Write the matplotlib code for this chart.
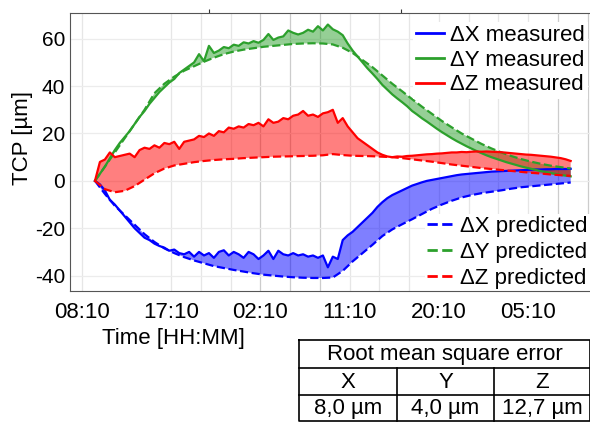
import matplotlib
matplotlib.use("Agg")
import matplotlib.pyplot as plt
import numpy as np
from matplotlib.lines import Line2D

plt.rcParams['font.family'] = ['Liberation Sans', 'DejaVu Sans']
plt.rcParams['axes.unicode_minus'] = False

# hours since 08:10
t_meas = 1.3 + 0.5 * np.arange(97)
t_pred = 1.3 + 1.0 * np.arange(49)

meas_x = [0, -1.5, -4, -8, -10, -12.5, -15, -17.5, -20, -22,
          -24, -25, -26.5, -27.5, -28.2, -29.5, -29, -30.5, -31, -30,
          -32, -30, -31.5, -30.5, -32.5, -30, -29.3, -31.5, -30, -31,
          -32.5, -30, -31, -33, -31.5, -29.5, -33, -29.5, -31, -31.5,
          -30.5, -31.5, -31, -32, -31.5, -32.5, -31.5, -36.5, -32, -33,
          -25, -23, -21.5, -19.5, -17.5, -15.5, -13.5, -11, -9, -7.3,
          -6, -5, -4, -3, -2, -1.3, -0.6, 0, 0.4, 0.8,
          1.2, 1.6, 2, 2.4, 2.7, 2.9, 3.1, 3.3, 3.5, 3.7,
          3.9, 4, 4.1, 4.2, 4.3, 4.4, 4.5, 4.6, 4.7, 4.8,
          4.8, 4.9, 4.9, 5, 5, 5, 5.1]
meas_y = [0, 3, 6, 9.5, 13, 16, 18.5, 21, 24, 27,
          29.5, 32.5, 35, 37.5, 39.5, 41.5, 43, 45.5, 47, 48.5,
          50, 53.5, 50.5, 57, 54, 55, 56.5, 56, 57.5, 57,
          58.5, 58, 59, 58.3, 59.5, 62, 59.5, 60.5, 61, 63.5,
          62.5, 61.8, 62.5, 63.8, 63, 65.3, 63.5, 66, 64, 63,
          61.5, 58, 55, 52.5, 50, 47.5, 45.3, 43, 40.5, 38.5,
          36.5, 34.8, 33.2, 31.5, 29.5, 28, 26.4, 25, 23.5, 22,
          20.6, 19.3, 18, 16.8, 15.7, 14.6, 13.6, 12.6, 11.7, 10.8,
          10, 9.3, 8.6, 7.9, 7.3, 6.7, 6.1, 5.6, 5.1, 4.6,
          4.1, 3.7, 3.3, 2.9, 2.5, 2.2, 1.9]
meas_z = [0, 8, 9, 12, 10, 10.5, 11, 11.5, 10, 13,
          14, 13.5, 15, 14, 16, 15.5, 16.5, 13.5, 16.5, 17,
          17.5, 19, 18.5, 20, 19, 21, 20.5, 22.5, 22, 23,
          22.5, 24, 23.5, 24.5, 23, 26, 24.5, 25, 26.5, 26,
          27.5, 28, 29.5, 27.5, 28, 27, 28.5, 29, 30, 24.5,
          26.5, 23, 20.5, 18, 16.5, 15, 13.5, 12, 11, 10.3,
          10, 10.3, 10.2, 10.5, 10.6, 10.8, 11, 11.2, 11.3, 11.5,
          11.6, 11.8, 12, 12, 12.2, 12.1, 12.3, 12.4, 12.3, 12.4,
          12.3, 12.2, 12.1, 11.9, 11.7, 11.5, 11.3, 11.1, 11, 10.8,
          10.6, 10.4, 10.2, 9.9, 9.6, 9.1, 8.4]

pred_x = [0, -5.5, -10.5, -14.5, -18.5, -22.5, -25.8, -28.5, -30.5, -32.2,
          -33.6, -34.8, -36, -36.8, -37.6, -38.3, -39, -39.6, -40, -40.4,
          -40.7, -40.9, -41, -41, -40.8, -38, -34, -30.5, -27, -23.3,
          -20.5, -18.3, -16.2, -14, -11.8, -10, -8.4, -7, -6, -5.2,
          -4.6, -4, -3.3, -2.7, -2.3, -1.9, -1.5, -1.1, -0.7]
pred_y = [0, 6, 12, 18, 24, 30, 37, 41, 44, 46.5,
          48.4, 50.3, 52, 53.5, 54.6, 55.4, 56, 56.6, 57, 57.4,
          57.8, 58, 58.1, 58, 57.6, 56.2, 54, 51, 48, 44.5,
          41, 37.8, 34.5, 31.3, 28.3, 25.3, 22.6, 20, 17.8, 15.6,
          13.7, 12, 10.5, 9.2, 8.1, 7.2, 6.4, 5.8, 5.2]
pred_z = [0, -3.5, -4.8, -4.2, -2.2, 0.5, 3.2, 5.2, 6.5, 7.2,
          7.9, 8.4, 8.8, 9.1, 9.3, 9.6, 9.8, 10, 10.2, 10.3,
          10.4, 10.5, 10.6, 10.8, 11.3, 10.9, 10.6, 10.5, 10.4, 10.2,
          10, 9.6, 9.1, 8.6, 8.1, 7.5, 6.9, 6.4, 5.9, 5.4,
          5, 4.6, 4.2, 3.8, 3.4, 3.1, 2.7, 2.4, 2.1]

tick_hours = [0, 9, 18, 27, 36, 45]
tick_labels = ['08:10', '17:10', '02:10', '11:10', '20:10', '05:10']
rmse_cols = ['X', 'Y', 'Z']
rmse_vals = ['8,0 µm', '4,0 µm', '12,7 µm']

cols = ['#0000ff', '#2ca02c', '#ff0000']
names = ['ΔX', 'ΔY', 'ΔZ']

fig = plt.figure(figsize=(5.9, 4.24), dpi=100)
ax = fig.add_axes([69.5/590, 1-291/424, (590-69.5)/590, (291-12.7)/424])

# grid
for h in [0, 9, 12, 15, 27, 30, 33, 36, 39, 42, 45]:
    ax.axvline(h, color='#e6e6e6', lw=0.9, zorder=0)
for h in [18, 21, 24, 48, 51]:
    ax.axvline(h, color='#cccccc', lw=0.9, zorder=0)
ax.set_axisbelow(True)
ax.yaxis.grid(True, color='#ececec', lw=0.9)

for m, p, c in zip([meas_x, meas_y, meas_z], [pred_x, pred_y, pred_z], cols):
    ax.fill(np.concatenate([t_meas, t_pred[::-1]]),
            np.concatenate([m, p[::-1]]), color=c, alpha=0.5, lw=0)
for m, p, c in zip([meas_x, meas_y, meas_z], [pred_x, pred_y, pred_z], cols):
    ax.plot(t_meas, m, color=c, lw=1.6)
    ax.plot(t_pred, p, '--', color=c, lw=1.6)

ax.set_xlim(-1.27, 51.25)
ax.set_ylim(-46.5, 71)
ax.set_xticks(tick_hours)
ax.set_xticklabels(tick_labels, fontsize=16)
ax.set_yticks([-40, -20, 0, 20, 40, 60])
ax.tick_params(axis='y', length=0, pad=3, labelsize=15)
ax.tick_params(axis='x', length=0, pad=8)
for s in ['left', 'bottom', 'top']:
    ax.spines[s].set_color('#555555')
    ax.spines[s].set_zorder(6)
ax.spines['right'].set_visible(False)

top = ax.secondary_xaxis('top')
top.set_xticks([12.8, 32.2])
top.set_xticklabels([])
top.tick_params(length=3, color='#333333')
top.spines['top'].set_visible(False)

ax.set_xlabel('Time [HH:MM]', fontsize=16)
ax.xaxis.set_label_coords(0.199, -0.133)
ax.set_ylabel('TCP [µm]', fontsize=16)
ax.yaxis.set_label_coords(-0.07, 0.55)

h1 = [Line2D([], [], color=c, lw=2) for c in cols]
h2 = [Line2D([], [], color=c, lw=2, ls='--') for c in cols]
leg1 = ax.legend(h1, [n + ' measured' for n in names], loc='upper right',
                 bbox_to_anchor=(1.0, 0.975), fontsize=16, frameon=True,
                 fancybox=False, edgecolor='none', facecolor='white', framealpha=1,
                 handlelength=1.25, handletextpad=0.25, labelspacing=0.16,
                 borderpad=0.15, borderaxespad=0.1)
ax.add_artist(leg1)
ax.legend(h2, [n + ' predicted' for n in names], loc='lower right',
          bbox_to_anchor=(1.0, 0.0), fontsize=16, frameon=True,
          fancybox=False, edgecolor='none', facecolor='white', framealpha=1,
          handlelength=1.25, handletextpad=0.25, labelspacing=0.22,
          borderpad=0.1, borderaxespad=0.0)

# rmse table
tab = fig.add_axes([299/590, 1-421/424, 291/590, 81/424])
tab.set_xlim(299, 590)
tab.set_ylim(421, 340)
tab.axis('off')
kw = dict(color='black', lw=1.2, clip_on=False)
tab.plot([299, 589.5, 589.5, 299, 299], [340, 340, 421, 421, 340], **kw)
tab.plot([299, 589.5], [368, 368], **kw)
tab.plot([299, 589.5], [395, 395], **kw)
tab.plot([397, 397], [368, 421], **kw)
tab.plot([494, 494], [368, 421], **kw)
tab.text(444.5, 354.5, 'Root mean square error', ha='center', va='center', fontsize=16)
for cx, lab, val in zip([348, 445.5, 542], rmse_cols, rmse_vals):
    tab.text(cx, 382, lab, ha='center', va='center', fontsize=16)
    tab.text(cx, 408.5, val, ha='center', va='center', fontsize=16)

fig.savefig('out.png', dpi=100)
